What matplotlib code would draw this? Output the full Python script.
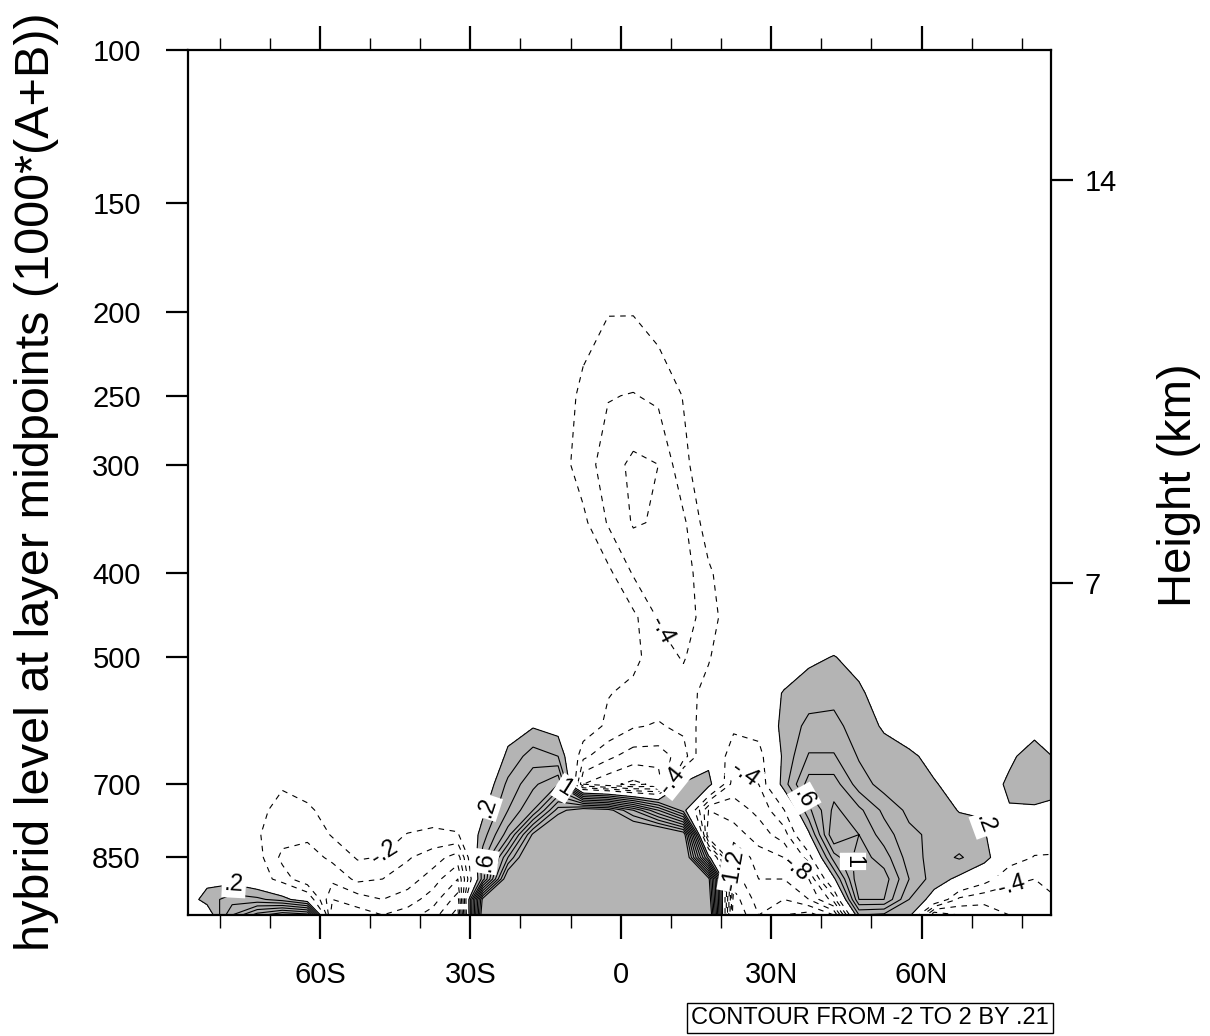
import numpy as np
import matplotlib
matplotlib.use("Agg")
import matplotlib.pyplot as plt

plt.rcParams['font.family'] = ['Liberation Sans', 'DejaVu Sans']

# grid: latitude (deg) and hybrid level (hPa)
lat = [-87.5, -82.5, -77.5, -72.5, -67.5, -62.5, -57.5, -52.5, -47.5, -42.5, -37.5, -32.5,
       -27.5, -22.5, -17.5, -12.5, -7.5, -2.5, 2.5, 7.5, 12.5, 17.5, 22.5, 27.5,
       32.5, 37.5, 42.5, 47.5, 52.5, 57.5, 62.5, 67.5, 72.5, 77.5, 82.5, 87.5]
lev = [100, 150, 200, 250, 300, 350, 400, 450, 500, 550, 600, 650, 700, 750, 800, 850, 900, 950, 990]

# values, one row per level (west -> east)
v100 = [0.0] * 36
v150 = [0, 0, 0, 0, 0, 0, 0, 0, 0, 0, 0, 0,
        0, 0, 0, 0, 0, -0.05, -0.05, 0, 0, 0, 0, 0,
        0, 0, 0, 0, 0, 0, 0, 0, 0, 0, 0, 0]
v200 = [0, 0, 0, 0, 0, 0, 0, 0, 0, 0, 0, 0,
        0, 0, 0, 0, -0.1, -0.19, -0.19, -0.1, 0, 0, 0, 0,
        0, 0, 0, 0, 0, 0, 0, 0, 0, 0, 0, 0]
v250 = [0, 0, 0, 0, 0, 0, 0, 0, 0, 0, 0, 0,
        0, 0, 0, -0.05, -0.26, -0.39, -0.41, -0.36, -0.19, -0.05, 0, 0,
        0, 0, 0, 0, 0, 0, 0, 0, 0, 0, 0, 0]
v300 = [0, 0, 0, 0, 0, 0, 0, 0, 0, 0, 0, 0,
        0, 0, 0, -0.1, -0.3, -0.5, -0.65, -0.6, -0.25, -0.05, 0, 0,
        0, 0, 0, 0, 0, 0, 0, 0, 0, 0, 0, 0]
v350 = [0, 0, 0, 0, 0, 0, 0, 0, 0, 0, 0, 0,
        0, 0, 0, 0, -0.15, -0.42, -0.62, -0.58, -0.44, -0.08, 0, 0,
        0, 0, 0, 0, 0, 0, 0, 0, 0, 0, 0, 0]
v400 = [0, 0, 0, 0, 0, 0, 0, 0, 0, 0, 0, 0,
        0, 0, 0, 0, 0, -0.15, -0.42, -0.55, -0.5, -0.24, -0.02, 0,
        0, 0, 0, 0, 0, 0, 0, 0, 0, 0, 0, 0]
v450 = [0, 0, 0, 0, 0, 0, 0, 0, 0, 0, 0, 0,
        0, 0, 0, 0, 0, 0, -0.15, -0.42, -0.5, -0.3, -0.05, 0,
        0, 0, 0, 0, 0, 0, 0, 0, 0, 0, 0, 0]
v500 = [0, 0, 0, 0, 0, 0, 0, 0, 0, 0, 0, 0,
        0, 0, 0, 0, 0, 0, -0.15, -0.3, -0.42, -0.22, 0, 0,
        0, 0.15, 0.21, 0.12, 0, 0, 0, 0, 0, 0, 0, 0]
v550 = [0, 0, 0, 0, 0, 0, 0, 0, 0, 0, 0, 0,
        0, 0, 0, 0, 0, -0.19, -0.25, -0.3, -0.3, -0.12, 0, 0,
        0.22, 0.32, 0.35, 0.24, 0.08, 0, 0, 0, 0, 0, 0, 0]
v600 = [0, 0, 0, 0, 0, 0, 0, 0, 0, 0, 0, 0,
        0, 0.1, 0.18, 0.1, -0.05, -0.25, -0.38, -0.42, -0.35, -0.05, -0.15, -0.1,
        0.28, 0.45, 0.45, 0.32, 0.17, 0.05, 0, 0, 0, 0, 0.1, 0.05]
v650 = [0, 0, 0, 0, 0, 0, 0, 0, 0, 0, 0, 0,
        -0.1, 0.25, 0.5, 0.4, -0.35, -0.55, -0.7, -0.7, -0.5, 0.1, -0.35, -0.3,
        0.25, 0.62, 0.62, 0.38, 0.3, 0.25, 0.12, 0, 0, 0.15, 0.32, 0.15]
v700 = [0, 0, 0, 0, -0.17, -0.08, 0, 0, 0, 0, 0, 0,
        0, 0.45, 0.75, 1.0, -0.8, -0.95, -1.05, -0.95, 0.25, 0.3, -0.5, -0.4,
        0.3, 0.9, 0.9, 0.5, 0.32, 0.3, 0.22, 0.1, 0.05, 0.25, 0.38, 0.3]
v750 = [0, 0, 0, -0.12, -0.3, -0.25, -0.08, 0, 0, -0.05, -0.08, -0.05,
        0.15, 0.6, 1.0, 1.9, 2.2, 2.1, 1.6, 1.0, 0.3, -0.8, -0.7, -0.55,
        -0.22, 0.55, 1.05, 0.85, 0.55, 0.35, 0.3, 0.19, 0.19, 0.18, 0.15, 0.1]
v800 = [0, 0, 0, -0.18, -0.32, -0.35, -0.18, -0.1, -0.12, -0.21, -0.25, -0.22,
        0.3, 0.9, 2.05, 2.5, 2.5, 2.5, 2.5, 2.5, 2.2, -1.0, -0.9, -0.7,
        -0.5, 0.15, 1.2, 1.0, 0.7, 0.45, 0.35, 0.3, 0.22, -0.05, -0.1, -0.1]
v850 = [0, 0, 0, -0.12, -0.45, -0.5, -0.35, -0.18, -0.21, -0.38, -0.5, -0.7,
        0.5, 1.6, 2.5, 2.5, 2.5, 2.5, 2.5, 2.5, 2.5, 0.3, -1.2, -0.9,
        -0.8, -0.3, 0.7, 1.1, 0.9, 0.5, 0.32, 0.42, 0.3, -0.1, -0.21, -0.22]
v900 = [0, 0.12, 0.1, -0.05, -0.3, -0.55, -0.55, -0.35, -0.4, -0.5, -0.7, -1.0,
        0.5, 2.3, 2.5, 2.5, 2.5, 2.5, 2.5, 2.5, 2.5, 2.1, -1.3, -1.0,
        -1.0, -0.8, 0.15, 1.2, 1.1, 0.6, 0.3, 0.15, -0.1, -0.35, -0.4, -0.35]
v950 = [0.0, 0.3, 0.5, 0.45, 0.3, 0.0, -0.8, -0.7, -0.6, -0.7, -0.9, -1.3,
        2.1, 2.5, 2.5, 2.5, 2.5, 2.5, 2.5, 2.5, 2.5, 2.3, -1.5, -1.1,
        -1.2, -1.0, -0.5, 1.0, 1.0, 0.4, 0.1, -0.45, -0.55, -0.5, -0.5, -0.4]
v990 = [-0.1, 0.0, 0.8, 1.3, 1.6, 1.5, -1.0, -0.9, -0.8, -0.9, -1.1, -1.5,
        2.3, 2.5, 2.5, 2.5, 2.5, 2.5, 2.5, 2.5, 2.5, 2.5, -1.6, -1.2,
        -1.4, -1.5, -1.2, 0.4, 0.35, 0.3, -1.0, -0.8, -0.7, -0.6, -0.5, -0.45]

field = np.array([v100, v150, v200, v250, v300, v350, v400, v450, v500, v550,
                  v600, v650, v700, v750, v800, v850, v900, v950, v990])

cn_levels = [-2.0, -1.8, -1.6, -1.4, -1.2, -1.0, -0.8, -0.6, -0.4, -0.2,
             0.2, 0.4, 0.6, 0.8, 1.0, 1.2, 1.4, 1.6, 1.8, 2.0]

xticks = [-60, -30, 0, 30, 60]
xlabels = ['60S', '30S', '0', '30N', '60N']
xminor = [-80, -70, -50, -40, -20, -10, 10, 20, 40, 50, 70, 80]
pticks = [100, 150, 200, 250, 300, 400, 500, 700, 850]
zticks = [14, 7]

# which line carries a label, and roughly where (level, lat, hPa)
label_spots = [(0.2, -77, 905), (-0.2, -44, 878), (0.2, -26, 745), (0.6, -25.5, 860),
               (1.0, -11.7, 715), (-0.4, 8.3, 465), (-0.4, 9.6, 690), (-0.4, 24.6, 682),
               (-1.2, 18, 876), (-0.8, 33, 900), (0.6, 36, 730), (1.0, 45, 860),
               (0.2, 75, 775), (-0.4, 78.4, 935)]


def std_atm_p(zkm):
    z = zkm * 1000.0
    if z <= 11000:
        return 1013.25 * (1 - 2.25577e-5 * z) ** 5.25588
    return 226.32 * np.exp(-(z - 11000) / 6341.6)


def fmt(v):
    s = ('%.1f' % v).rstrip('0').rstrip('.')
    return s.replace('0.', '.')


fig = plt.figure(figsize=(12.10, 10.36), dpi=100)
ax = fig.add_axes([0.1554, 0.1168, 0.7132, 0.8349])
ax.set_yscale('log')
ax.set_ylim(990, 100)
ax.set_xlim(-86.3, 85.8)

X, P = np.meshgrid(lat, lev)
ax.contourf(X, P, field, levels=[0.2, 10], colors=['#b4b4b4'])

# one contour set per level, so each label goes on the intended line
sets = {}
for lv in cn_levels:
    ls = 'solid' if lv > 0 else (0, (5, 5))
    sets[lv] = ax.contour(X, P, field, levels=[lv], colors='black',
                          linewidths=0.8, linestyles=[ls])

labs = []
for lv in sorted(set(s[0] for s in label_spots)):
    spots = [(x, p) for l, x, p in label_spots if l == lv]
    labs += sets[lv].clabel(manual=spots, inline=True, inline_spacing=3,
                            fmt=fmt, fontsize=17)
for t in labs:
    t.set_bbox(dict(facecolor='white', edgecolor='none', pad=1.5))

ax.set_yticks(pticks)
ax.set_yticklabels([str(p) for p in pticks])
ax.yaxis.set_minor_locator(matplotlib.ticker.NullLocator())
ax.set_xticks(xticks)
ax.set_xticklabels(xlabels)
ax.set_xticks(xminor, minor=True)

for s in ax.spines.values():
    s.set_linewidth(1.6)

ax.tick_params(axis='x', which='major', direction='out', length=17, width=1.6,
               top=True, labelsize=21, pad=16)
ax.tick_params(axis='x', which='minor', direction='out', length=9, width=1.0, top=True)
ax.tick_params(axis='y', which='major', direction='out', length=16, width=1.6,
               right=False, labelsize=21, pad=18)

ax2 = ax.twinx()
ax2.set_yscale('log')
ax2.set_ylim(990, 100)
ax2.set_yticks([std_atm_p(z) for z in zticks])
ax2.set_yticklabels([str(z) for z in zticks])
ax2.yaxis.set_minor_locator(matplotlib.ticker.NullLocator())
ax2.tick_params(axis='y', direction='out', length=16, width=1.6, labelsize=21, pad=8)
for s in ax2.spines.values():
    s.set_visible(False)

fig.text(0.030, 0.535, 'hybrid level at layer midpoints (1000*(A+B))',
         rotation=90, ha='center', va='center', fontsize=35)
fig.text(0.974, 0.532, 'Height (km)', rotation=90, ha='center', va='center', fontsize=34)

fig.text(0.867, 0.0175, 'CONTOUR FROM -2 TO 2 BY .21', ha='right', va='center', fontsize=17,
         bbox=dict(facecolor='white', edgecolor='black', linewidth=1.0, pad=3))

fig.savefig('out.png', dpi=100)
